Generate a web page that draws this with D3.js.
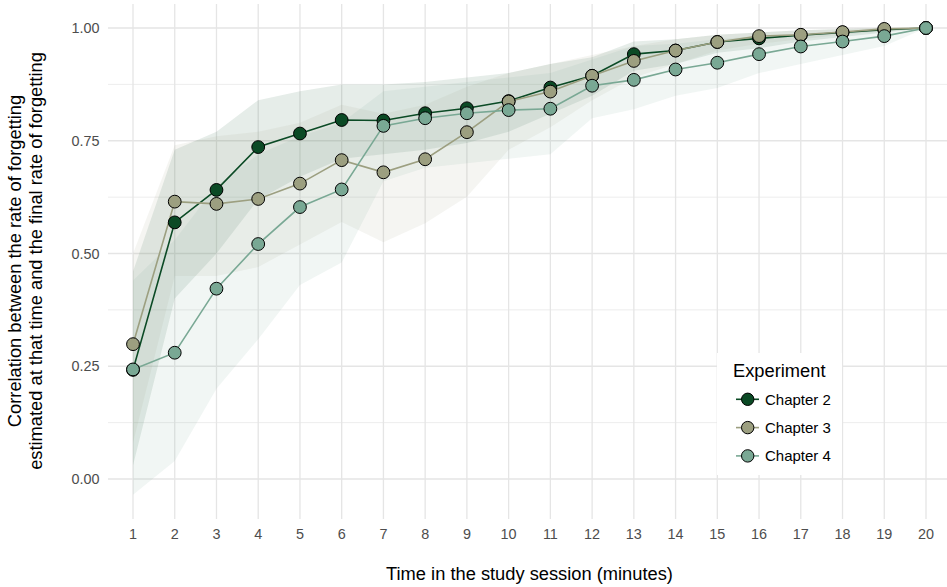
<!DOCTYPE html>
<html><head><meta charset="utf-8">
<script src="https://cdn.jsdelivr.net/npm/d3@7"></script>
<style>body{margin:0;background:#fff}svg{display:block}</style>
</head><body><svg id="c" width="947" height="587"></svg>
<script>
const times = d3.range(1, 21);
const seriesNames = ["Chapter 2", "Chapter 3", "Chapter 4"];
const colors = ["#0b4a25", "#9c9f80", "#79a894"];
const ch2 = [0.242,0.569,0.641,0.736,0.766,0.796,0.795,0.811,0.822,0.838,0.868,0.894,0.942,0.950,0.969,0.977,0.984,0.990,0.996,1.0];
const ch3 = [0.299,0.615,0.610,0.621,0.655,0.707,0.680,0.709,0.769,0.837,0.859,0.894,0.927,0.950,0.969,0.982,0.985,0.991,0.998,1.0];
const ch4 = [0.243,0.280,0.422,0.521,0.603,0.642,0.783,0.800,0.811,0.818,0.821,0.872,0.885,0.908,0.923,0.942,0.959,0.970,0.982,1.0];
const ch2Lo = [0.03,0.40,0.50,0.62,0.67,0.71,0.72,0.73,0.745,0.77,0.81,0.85,0.905,0.92,0.945,0.955,0.97,0.98,0.99,1.0];
const ch2Hi = [0.46,0.73,0.77,0.84,0.86,0.875,0.875,0.88,0.89,0.90,0.92,0.935,0.97,0.975,0.985,0.99,0.995,0.998,1.0,1.0];
const ch3Lo = [0.08,0.45,0.45,0.47,0.52,0.57,0.525,0.567,0.626,0.73,0.78,0.84,0.89,0.92,0.95,0.965,0.975,0.985,0.993,1.0];
const ch3Hi = [0.50,0.74,0.76,0.77,0.79,0.83,0.81,0.83,0.87,0.90,0.92,0.94,0.96,0.975,0.985,0.99,0.995,0.998,1.0,1.0];
const ch4Lo = [-0.035,0.04,0.20,0.31,0.43,0.48,0.66,0.69,0.70,0.71,0.72,0.80,0.82,0.85,0.867,0.90,0.92,0.94,0.96,1.0];
const ch4Hi = [0.44,0.53,0.65,0.72,0.76,0.79,0.86,0.87,0.88,0.89,0.90,0.93,0.96,0.965,0.975,0.982,0.988,0.992,0.996,1.0];
const yTicks = [0, 0.25, 0.5, 0.75, 1.0];
const yMinor = [0.125, 0.375, 0.625, 0.875];

const series = [
  {name: seriesNames[0], color: colors[0], v: ch2, lo: ch2Lo, hi: ch2Hi},
  {name: seriesNames[1], color: colors[1], v: ch3, lo: ch3Lo, hi: ch3Hi},
  {name: seriesNames[2], color: colors[2], v: ch4, lo: ch4Lo, hi: ch4Hi}
];

const svg = d3.select("#c");
const panel = {left: 108, right: 951, top: 4, bottom: 519};
const x = d3.scalePoint().domain(times).range([133, 926]);
const y = d3.scaleLinear().domain([0, 1]).range([479, 28]);
const font = "'Liberation Sans', Arial, Helvetica, sans-serif";

// grid
const g = svg.append("g");
g.selectAll(".ymin").data(yMinor).enter().append("line")
  .attr("x1", panel.left).attr("x2", panel.right)
  .attr("y1", d => y(d)).attr("y2", d => y(d))
  .attr("stroke", "#ebebeb").attr("stroke-width", 0.9);
g.selectAll(".ymaj").data(yTicks).enter().append("line")
  .attr("x1", panel.left).attr("x2", panel.right)
  .attr("y1", d => y(d)).attr("y2", d => y(d))
  .attr("stroke", "#e5e5e5").attr("stroke-width", 1.3);
g.selectAll(".xmaj").data(times).enter().append("line")
  .attr("y1", panel.top).attr("y2", panel.bottom)
  .attr("x1", d => x(d)).attr("x2", d => x(d))
  .attr("stroke", "#e5e5e5").attr("stroke-width", 1.3);

// ribbons
const area = d3.area().x((d, i) => x(times[i])).y0(d => y(d[0])).y1(d => y(d[1]));
series.forEach(s => {
  svg.append("path").datum(s.lo.map((l, i) => [l, s.hi[i]]))
    .attr("d", area).attr("fill", s.color).attr("fill-opacity", 0.1);
});

// lines
const line = d3.line().x((d, i) => x(times[i])).y(d => y(d));
series.forEach(s => {
  svg.append("path").datum(s.v).attr("d", line)
    .attr("fill", "none").attr("stroke", s.color).attr("stroke-width", 1.6);
});
// points
series.forEach(s => {
  svg.append("g").selectAll("circle").data(s.v).enter().append("circle")
    .attr("cx", (d, i) => x(times[i])).attr("cy", d => y(d)).attr("r", 6.4)
    .attr("fill", s.color).attr("stroke", "#000").attr("stroke-width", 1);
});

// axes labels
svg.append("g").selectAll("text").data(times).enter().append("text")
  .attr("x", d => x(d)).attr("y", 539).attr("text-anchor", "middle")
  .attr("font-family", font).attr("font-size", 14.4).attr("fill", "#4d4d4d").text(d => d);
svg.append("g").selectAll("text").data(yTicks).enter().append("text")
  .attr("x", 99.5).attr("y", d => y(d) + 5.2).attr("text-anchor", "end")
  .attr("font-family", font).attr("font-size", 14.4).attr("fill", "#4d4d4d").text(d => d.toFixed(2));

svg.append("text").attr("x", 529.5).attr("y", 580).attr("text-anchor", "middle")
  .attr("font-family", font).attr("font-size", 18.3).attr("fill", "#000")
  .text("Time in the study session (minutes)");
const yt = svg.append("text").attr("transform", "translate(0,261) rotate(-90)")
  .attr("text-anchor", "middle").attr("font-family", font).attr("font-size", 18.3).attr("fill", "#000");
yt.append("tspan").attr("x", 0).attr("y", 21).text("Correlation between the rate of forgetting");
yt.append("tspan").attr("x", 0).attr("y", 42).text("estimated at that time and the final rate of forgetting");

// legend
const lg = svg.append("g");
lg.append("rect").attr("x", 717).attr("y", 353).attr("width", 125).attr("height", 122).attr("fill", "#fff");
lg.append("text").attr("x", 733).attr("y", 377).attr("font-family", font).attr("font-size", 18.3)
  .attr("fill", "#000").text("Experiment");
series.forEach((s, i) => {
  const cy = 399.3 + i * 28.3;
  lg.append("line").attr("x1", 736).attr("x2", 759).attr("y1", cy).attr("y2", cy)
    .attr("stroke", s.color).attr("stroke-width", 1.6);
  lg.append("circle").attr("cx", 747.7).attr("cy", cy).attr("r", 6.2)
    .attr("fill", s.color).attr("stroke", "#000").attr("stroke-width", 1);
  lg.append("text").attr("x", 765).attr("y", cy + 5.2).attr("font-family", font).attr("font-size", 15)
    .attr("fill", "#000").text(s.name);
});
</script></body></html>
